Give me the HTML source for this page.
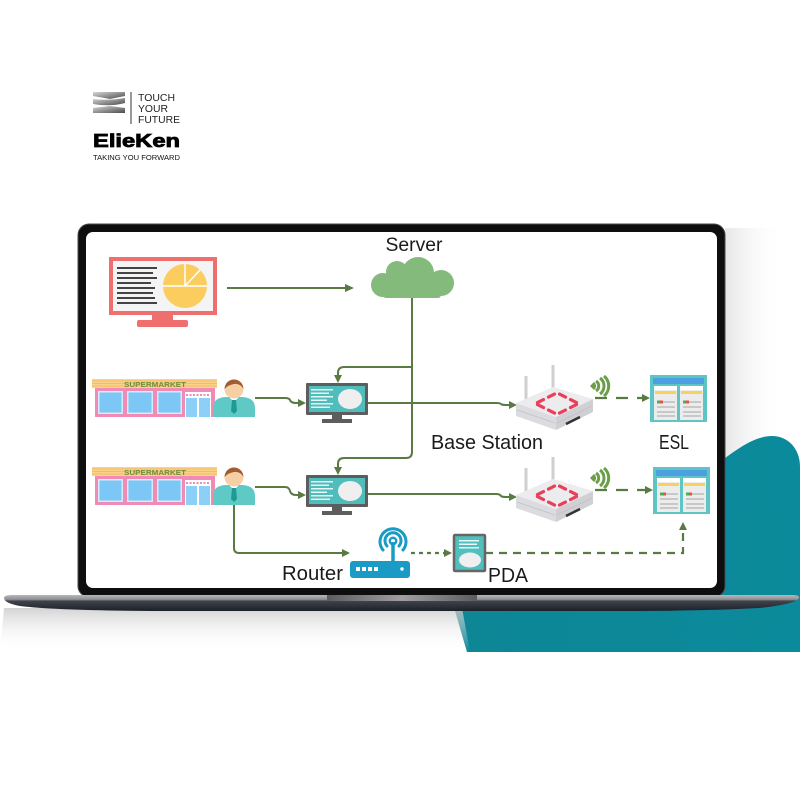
<!DOCTYPE html>
<html><head><meta charset="utf-8"><style>
html,body{margin:0;padding:0;background:#fff;}
svg{display:block;}
text{font-family:"Liberation Sans",sans-serif;}
</style></head><body>
<svg width="800" height="800" viewBox="0 0 800 800" xmlns="http://www.w3.org/2000/svg">
<defs>
<linearGradient id="rsh" x1="0" y1="0" x2="1" y2="0"><stop offset="0" stop-color="#dcdcdc"/><stop offset="1" stop-color="#fff" stop-opacity="0"/></linearGradient>
<linearGradient id="bsh" x1="0" y1="0" x2="0" y2="1"><stop offset="0" stop-color="#c9c9c9"/><stop offset="1" stop-color="#fff" stop-opacity="0"/></linearGradient>
<linearGradient id="base" x1="0" y1="0" x2="0" y2="1"><stop offset="0" stop-color="#b8b6b8"/><stop offset="0.28" stop-color="#8f8f94"/><stop offset="0.38" stop-color="#3e434c"/><stop offset="1" stop-color="#1c2028"/></linearGradient>
<linearGradient id="hinge" x1="0" y1="0" x2="1" y2="0"><stop offset="0" stop-color="#5c5c60"/><stop offset="0.5" stop-color="#a09ea2"/><stop offset="1" stop-color="#5c5c60"/></linearGradient>
<linearGradient id="teal" x1="0" y1="0" x2="1" y2="0"><stop offset="0" stop-color="#0d8696"/><stop offset="1" stop-color="#0b8a9b"/></linearGradient>
<linearGradient id="logo" x1="0" y1="0" x2="1" y2="1"><stop offset="0" stop-color="#d8d8d8"/><stop offset="1" stop-color="#4a4a4a"/></linearGradient>
</defs>

<!-- logo -->
<polygon points="93,92 125,92 125,96 110,99 93,96" fill="url(#logo)"/>
<path d="M93,99 Q108,101 125,98 L125,103 Q110,107 93,104 Z" fill="url(#logo)"/>
<polygon points="93,108 110,106 125,108 125,113 93,113" fill="url(#logo)"/>
<line x1="131" y1="92" x2="131" y2="124" stroke="#333" stroke-width="1"/>
<text x="138" y="101" font-size="10" fill="#222" textLength="37" lengthAdjust="spacingAndGlyphs">TOUCH</text>
<text x="138" y="112" font-size="10" fill="#222" textLength="30" lengthAdjust="spacingAndGlyphs">YOUR</text>
<text x="138" y="123" font-size="10" fill="#222" textLength="42" lengthAdjust="spacingAndGlyphs">FUTURE</text>
<text x="93" y="147" font-size="18" font-weight="bold" fill="#000" stroke="#000" stroke-width="0.8" textLength="87" lengthAdjust="spacingAndGlyphs">ElieKen</text>
<text x="93" y="160" font-size="7.5" fill="#111" textLength="87" lengthAdjust="spacingAndGlyphs">TAKING YOU FORWARD</text>

<!-- shadows (behind teal) -->
<rect x="725" y="228" width="60" height="380" fill="url(#rsh)" opacity="0.7"/>

<!-- teal background shape -->
<path d="M467,652 C462,635 457,618 452,600 L720,600 L720,462 C738,448 756,436 772,436 C789,436 800,450 800,466 L800,652 Z" fill="url(#teal)"/>

<path d="M4,608 L462,608 L470,652 L0,652 Z" fill="url(#bsh)" opacity="0.8"/>

<!-- laptop bezel -->
<rect x="78" y="224" width="647" height="373" rx="11" fill="#0e0e0f" stroke="#4a4a4c" stroke-width="1"/>
<rect x="86" y="232" width="631" height="356" rx="7" fill="#ffffff"/>

<!-- base -->
<path d="M4,598 Q4,595 12,595 L792,595 Q800,595 799,598 Q796,604 760,608 Q700,611 620,611 L180,611 Q60,611 20,606 Q4,603 4,598 Z" fill="url(#base)"/>
<rect x="327" y="595" width="150" height="6" fill="url(#hinge)"/>

<!-- Server label -->
<text x="414" y="251" font-size="19" fill="#1a1a1a" text-anchor="middle" textLength="57" lengthAdjust="spacingAndGlyphs">Server</text>

<!-- red monitor -->
<rect x="111" y="259" width="104" height="54" fill="#f4f4f4" stroke="#ef6f6f" stroke-width="4"/>
<rect x="152" y="314" width="21" height="7" fill="#ef6f6f"/>
<rect x="137" y="320" width="51" height="7" rx="2" fill="#ef6f6f"/>
<g fill="#444">
<rect x="117" y="267" width="40" height="2"/>
<rect x="117" y="272" width="36" height="2"/>
<rect x="117" y="277" width="40" height="2"/>
<rect x="117" y="282" width="34" height="2"/>
<rect x="117" y="287" width="38" height="2"/>
<rect x="117" y="292" width="36" height="2"/>
<rect x="117" y="297" width="38" height="2"/>
<rect x="117" y="302" width="40" height="2"/>
</g>
<circle cx="185" cy="286" r="22" fill="#fbcd5f"/>
<g stroke="#fff" stroke-width="1.5">
<line x1="163" y1="286" x2="207" y2="286"/>
<line x1="185" y1="286" x2="185" y2="264"/>
<line x1="185" y1="286" x2="200" y2="270"/>
</g>

<!-- connectors -->
<g stroke="#5a7a44" stroke-width="2" fill="none">
<line x1="227" y1="288" x2="347" y2="288"/>
<path d="M412,296 L412,452 Q412,458 406,458 L344,458 Q338,458 338,464 L338,469"/>
<path d="M412,367 L344,367 Q338,367 338,373 L338,377"/>
<path d="M255,398 L285,398 Q289,398 290,400 Q291,403 296,403 L300,403"/>
<path d="M255,487 L285,487 Q289,487 290,491 Q291,495 296,495 L300,495"/>
<path d="M368,403 L496,403 Q500,403 501,404 Q502,405 506,405 L511,405"/>
<path d="M368,494 L496,494 Q500,494 501,496 Q502,497 506,497 L511,497"/>
<path d="M234,505 L234,548 Q234,553 239,553 L344,553"/>
</g>
<g fill="#5a7a44">
<polygon points="354,288 345,284 345,292"/>
<polygon points="338,383 334,375 342,375"/>
<polygon points="338,475 334,467 342,467"/>
<polygon points="306,403 298,399 298,407"/>
<polygon points="306,495 298,491 298,499"/>
<polygon points="517,405 509,401 509,409"/>
<polygon points="517,497 509,493 509,501"/>
<polygon points="650,398 642,394 642,402"/>
<polygon points="653,490 645,486 645,494"/>
<polygon points="350,553 342,549 342,557"/>
<polygon points="452,553 444,549 444,557"/>
<polygon points="683,522 679,530 687,530"/>
</g>
<g stroke="#5a7a44" stroke-width="2.2" fill="none">
<line x1="595" y1="398" x2="643" y2="398" stroke-dasharray="12,9"/>
<line x1="595" y1="490" x2="646" y2="490" stroke-dasharray="12,9"/>
<line x1="411" y1="553" x2="445" y2="553" stroke-dasharray="4,4"/>
<path d="M485,553 L683,553 L683,529" stroke-dasharray="8,6"/>
</g>

<!-- cloud -->
<g fill="#84bb7c">
<circle cx="383" cy="285" r="12"/>
<circle cx="397" cy="272" r="11"/>
<circle cx="418" cy="273" r="16"/>
<circle cx="441" cy="283" r="13"/>
<rect x="383" y="278" width="58" height="20" rx="3"/>
</g>

<!-- supermarkets & persons -->
<g id="row1">
<rect x="92" y="379" width="125" height="9" fill="#fbd28a"/>
<g stroke="#f5b35a" stroke-width="0.8"><line x1="92" y1="381" x2="217" y2="381"/><line x1="92" y1="383.5" x2="217" y2="383.5"/><line x1="92" y1="386" x2="217" y2="386"/></g>
<text x="155" y="387" font-size="7.5" font-weight="bold" fill="#6f8f3d" text-anchor="middle" textLength="62" lengthAdjust="spacingAndGlyphs">SUPERMARKET</text>
<rect x="95" y="388" width="120" height="29" fill="#ef8bb4"/>
<rect x="98" y="391" width="25" height="23" fill="#d4ecfb"/><rect x="99.5" y="392.5" width="22" height="20" fill="#7cc7f6"/>
<rect x="127" y="391" width="26" height="23" fill="#d4ecfb"/><rect x="128.5" y="392.5" width="23" height="20" fill="#7cc7f6"/>
<rect x="157" y="391" width="25" height="23" fill="#d4ecfb"/><rect x="158.5" y="392.5" width="22" height="20" fill="#7cc7f6"/>
<rect x="185" y="392" width="26" height="25" fill="#fff"/>
<line x1="186" y1="395" x2="210" y2="395" stroke="#ef8bb4" stroke-width="2" stroke-dasharray="2,1.5"/>
<rect x="186" y="398" width="11" height="19" fill="#8ccff7"/><rect x="199" y="398" width="11" height="19" fill="#8ccff7"/>
<path d="M213,417 L213,408 Q213,398 225,397 L243,397 Q255,398 255,408 L255,417 Z" fill="#5fc9c6"/>
<polygon points="229,397 234,402 239,397" fill="#fff"/>
<polygon points="232,400 236,400 237,411 234,414 231,411" fill="#1f9b94"/>
<circle cx="234" cy="389" r="9.5" fill="#f7cfa5"/>
<path d="M224.5,389 A9.5,9.5 0 0 1 243.5,389 Q240,383 234,384 Q228,385 224.5,389 Z" fill="#a25c33"/>
</g>
<use href="#row1" transform="translate(0,88)"/>

<!-- teal monitors -->
<g id="mon">
<rect x="306" y="383" width="62" height="32" rx="1" fill="#5d5d5d"/>
<rect x="309" y="386" width="56" height="26" fill="#4fbdbb"/>
<g fill="#e8f7f7">
<rect x="311" y="389" width="22" height="1.5"/><rect x="311" y="392.5" width="18" height="1.5"/><rect x="311" y="396" width="22" height="1.5"/><rect x="311" y="399.5" width="16" height="1.5"/><rect x="311" y="403" width="22" height="1.5"/><rect x="311" y="406.5" width="19" height="1.5"/>
</g>
<ellipse cx="350" cy="399" rx="12" ry="10" fill="#efefef"/>
<rect x="332" y="415" width="10" height="5" fill="#5d5d5d"/>
<rect x="322" y="419" width="30" height="4" fill="#5d5d5d"/>
</g>
<use href="#mon" transform="translate(0,92)"/>

<!-- base stations -->
<g id="bs">
<line x1="526" y1="376" x2="526" y2="404" stroke="#cfcfd2" stroke-width="3"/>
<line x1="553" y1="365" x2="553" y2="392" stroke="#cfcfd2" stroke-width="3"/>
<polygon points="516,403 556,417 556,430 516,416" fill="#dcdce0"/>
<polygon points="556,417 593,399 593,412 556,430" fill="#cfcfd4"/>
<polygon points="516,403 553,387 593,399 556,417" fill="#ececef"/>
<line x1="517" y1="410" x2="555" y2="423" stroke="#c2c2c6" stroke-width="0.8"/>
<line x1="557" y1="423" x2="592" y2="406" stroke="#c2c2c6" stroke-width="0.8"/>
<line x1="566" y1="424" x2="580" y2="417" stroke="#333" stroke-width="2.5"/>
<g stroke="#e8405a" stroke-width="3.2" stroke-linecap="round">
<line x1="537.5" y1="402.6" x2="543.5" y2="399.6"/>
<line x1="548.5" y1="397.1" x2="554.5" y2="394.1"/>
<line x1="559.5" y1="394.1" x2="565.5" y2="397.1"/>
<line x1="570.5" y1="399.6" x2="576.5" y2="402.6"/>
<line x1="570.5" y1="407.6" x2="576.5" y2="404.6" />
<line x1="559.5" y1="413.1" x2="565.5" y2="410.1"/>
<line x1="548.5" y1="410.1" x2="554.5" y2="413.1"/>
<line x1="537.5" y1="404.6" x2="543.5" y2="407.6"/>
</g>
<g fill="none" stroke="#6a9e48" stroke-width="3">
<path d="M596,381 A6,6 0 0 1 596,391"/>
<path d="M600,378 A10,10 0 0 1 600,394"/>
<path d="M604,376 A13,13 0 0 1 604,396"/>
</g>
<path d="M590,386 L594,382 A5,5 0 0 1 594,390 Z" fill="#6a9e48"/>
</g>
<use href="#bs" transform="translate(0,92)"/>

<!-- ESL -->
<g id="esl">
<rect x="650" y="375" width="57" height="47" fill="#5ec5c5"/>
<rect x="653" y="378" width="51" height="6" fill="#4c9fe0"/>
<rect x="654" y="386" width="23" height="34" fill="#ececec"/>
<rect x="680" y="386" width="23" height="34" fill="#ececec"/>
<rect x="654" y="386" width="23" height="4" fill="#fff"/><rect x="680" y="386" width="23" height="4" fill="#fff"/>
<rect x="655" y="391" width="21" height="3" fill="#f8d25a"/><rect x="681" y="391" width="21" height="3" fill="#f8d25a"/>
<g fill="#c8c8c8">
<rect x="663" y="401" width="12" height="2"/><rect x="657" y="406" width="18" height="2"/><rect x="657" y="411" width="18" height="2"/><rect x="657" y="415" width="18" height="2"/>
<rect x="689" y="401" width="12" height="2"/><rect x="683" y="406" width="18" height="2"/><rect x="683" y="411" width="18" height="2"/><rect x="683" y="415" width="18" height="2"/>
</g>
<rect x="657" y="400.5" width="3" height="3" fill="#4caf50"/><rect x="660" y="400.5" width="3" height="3" fill="#e85050"/>
<rect x="683" y="400.5" width="3" height="3" fill="#4caf50"/><rect x="686" y="400.5" width="3" height="3" fill="#e85050"/>
</g>
<use href="#esl" transform="translate(3,92)"/>

<text x="431" y="449" font-size="20" fill="#1a1a1a" textLength="112" lengthAdjust="spacingAndGlyphs">Base Station</text>
<text x="659" y="449" font-size="20" fill="#1a1a1a" textLength="30" lengthAdjust="spacingAndGlyphs">ESL</text>

<!-- router -->
<rect x="350" y="561" width="60" height="17" rx="3" fill="#1a9bc6"/>
<g fill="#fff"><rect x="356" y="567" width="4" height="4"/><rect x="362" y="567" width="4" height="4"/><rect x="368" y="567" width="4" height="4"/><rect x="374" y="567" width="4" height="4"/><circle cx="402" cy="569" r="1.7"/></g>
<line x1="393" y1="542" x2="393" y2="562" stroke="#1a9bc6" stroke-width="3.5"/>
<circle cx="393" cy="541" r="3.2" fill="none" stroke="#1a9bc6" stroke-width="2.5"/>
<g fill="none" stroke="#1a9bc6" stroke-width="3" stroke-linecap="round">
<path d="M387,546 A8,8 0 1 1 399,546"/>
<path d="M383,550 A13,13 0 1 1 403,550"/>
</g>
<text x="282" y="580" font-size="20" fill="#1a1a1a" textLength="61" lengthAdjust="spacingAndGlyphs">Router</text>

<!-- PDA -->
<rect x="454" y="535" width="31" height="36" rx="1" fill="#50bfbd" stroke="#666" stroke-width="2.5"/>
<g fill="#e8f7f7"><rect x="459" y="540" width="20" height="1.5"/><rect x="459" y="543.5" width="18" height="1.5"/><rect x="459" y="547" width="20" height="1.5"/></g>
<ellipse cx="470" cy="560" rx="11" ry="7.5" fill="#efefef"/>
<text x="488" y="582" font-size="20" fill="#1a1a1a" textLength="40" lengthAdjust="spacingAndGlyphs">PDA</text>
</svg>
</body></html>
